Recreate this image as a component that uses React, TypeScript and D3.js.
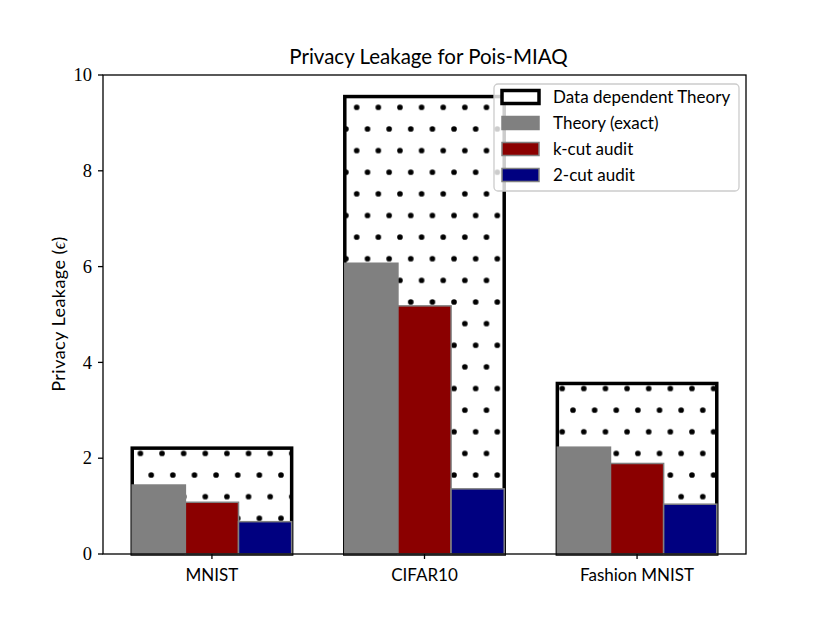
import React from "react";
import * as d3 from "d3";

const categories = ["MNIST", "CIFAR10", "Fashion MNIST"];
const dataDependent = [2.21, 9.55, 3.56];
const theoryExact = [1.44, 6.07, 2.23];
const kCutAudit = [1.08, 5.18, 1.89];
const twoCutAudit = [0.675, 1.36, 1.04];
const yTicks = [0, 2, 4, 6, 8, 10];

const legendItems = [
  { label: "Data dependent Theory", fill: "#ffffff", stroke: "#000000", sw: 3.5 },
  { label: "Theory (exact)", fill: "#808080", stroke: "#808080", sw: 1.5 },
  { label: "k-cut audit", fill: "#8b0000", stroke: "#808080", sw: 1.5 },
  { label: "2-cut audit", fill: "#000080", stroke: "#808080", sw: 1.5 },
];

const W = 830;
const H = 623;
const margin = { top: 75, right: 84, bottom: 69, left: 103 };
const sans = "Lato, 'DejaVu Sans', sans-serif";
const serif = "'Liberation Serif', 'DejaVu Serif', serif";

export default function App() {
  const x = d3
    .scaleLinear()
    .domain([-0.5125, 2.5125])
    .range([margin.left, W - margin.right]);
  const y = d3
    .scaleLinear()
    .domain([0, 10])
    .range([H - margin.bottom, margin.top]);

  const bw = 0.25;
  const series = [
    { values: theoryExact, offset: -0.375, fill: "#808080", stroke: "#808080" },
    { values: kCutAudit, offset: -0.125, fill: "#8b0000", stroke: "#808080" },
    { values: twoCutAudit, offset: 0.125, fill: "#000080", stroke: "#808080" },
  ];

  // hatch grid ('.' style), anchored to the figure like matplotlib does
  const step = 21.63;
  const x0 = 356.7;
  const y0 = 107.3;
  const dotR = 2.8;
  const legX = 494;
  const legY = 84;

  return (
    <svg
      width={W}
      height={H}
      style={{ position: "absolute", left: 0, top: 0, background: "#fff" }}
    >
      <defs>
        <pattern
          id="dots"
          patternUnits="userSpaceOnUse"
          x={x0 - step / 2}
          y={y0 - step / 2}
          width={step}
          height={step * 2}
        >
          <circle cx={step / 2} cy={step / 2} r={dotR} fill="#000" />
          <circle cx={0} cy={step * 1.5} r={dotR} fill="#000" />
          <circle cx={step} cy={step * 1.5} r={dotR} fill="#000" />
        </pattern>
      </defs>

      {/* data dependent theory bars */}
      {categories.map((c, i) => {
        const left = x(i - 0.375);
        const right = x(i + 0.375);
        const top = y(dataDependent[i]);
        return (
          <g key={"dd" + c}>
            <rect x={left} y={top} width={right - left} height={y(0) - top} fill="#fff" />
            <rect x={left} y={top} width={right - left} height={y(0) - top} fill="url(#dots)" />
            <rect
              x={left}
              y={top}
              width={right - left}
              height={y(0) - top}
              fill="none"
              stroke="#000"
              strokeWidth={3.5}
            />
          </g>
        );
      })}

      {series.map((s, si) =>
        categories.map((c, i) => {
          const left = x(i + s.offset);
          const right = x(i + s.offset + bw);
          const top = y(s.values[i]);
          return (
            <rect
              key={si + c}
              x={left}
              y={top}
              width={right - left}
              height={y(0) - top}
              fill={s.fill}
              stroke={s.stroke}
              strokeWidth={1.5}
            />
          );
        })
      )}

      {/* frame */}
      <rect
        x={margin.left}
        y={margin.top}
        width={W - margin.left - margin.right}
        height={H - margin.top - margin.bottom}
        fill="none"
        stroke="#000"
        strokeWidth={1.3}
      />

      {/* y axis */}
      {yTicks.map((t) => (
        <g key={"yt" + t}>
          <line x1={margin.left - 5} x2={margin.left} y1={y(t)} y2={y(t)} stroke="#000" strokeWidth={1.3} />
          <text
            x={margin.left - 11}
            y={y(t)}
            dy="0.34em"
            textAnchor="end"
            fontFamily={serif}
            fontSize={18.5}
            fill="#000"
          >
            {t}
          </text>
        </g>
      ))}

      {/* x axis */}
      {categories.map((c, i) => (
        <g key={"xt" + c}>
          <line x1={x(i)} x2={x(i)} y1={y(0)} y2={y(0) + 5} stroke="#000" strokeWidth={1.3} />
          <text x={x(i)} y={y(0) + 27} textAnchor="middle" fontFamily={sans} fontSize={17} fill="#000">
            {c}
          </text>
        </g>
      ))}

      <text
        transform={`translate(65, 314) rotate(-90)`}
        textAnchor="middle"
        fontFamily={sans}
        fontSize={18}
        letterSpacing={0.45}
        fill="#000"
      >
        Privacy Leakage (
        <tspan fontFamily={serif} fontStyle="italic" fontSize={18}>
          ϵ
        </tspan>
        )
      </text>

      <text
        x={(margin.left + W - margin.right) / 2 + 4}
        y={64}
        textAnchor="middle"
        fontFamily={sans}
        fontSize={20.5}
        fill="#000"
      >
        Privacy Leakage for Pois-MIAQ
      </text>

      {/* legend */}
      <g>
        <rect
          x={legX}
          y={legY}
          width={245}
          height={107}
          rx={4}
          fill="#fff"
          fillOpacity={0.8}
          stroke="#cccccc"
          strokeWidth={1.3}
        />
        {legendItems.map((d, i) => {
          const cy = legY + 13 + i * 26;
          return (
            <g key={d.label}>
              <rect
                x={legX + 8}
                y={cy - 6.5}
                width={37}
                height={13}
                fill={d.fill}
                stroke={d.stroke}
                strokeWidth={d.sw}
              />
              <text x={legX + 59} y={cy} dy="0.35em" fontFamily={sans} fontSize={17} fill="#000">
                {d.label}
              </text>
            </g>
          );
        })}
      </g>
    </svg>
  );
}
